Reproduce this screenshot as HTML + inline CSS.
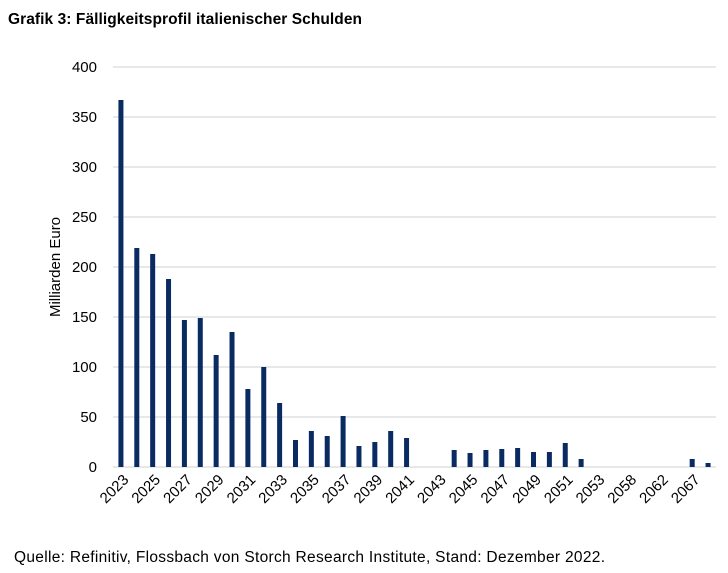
<!DOCTYPE html>
<html><head><meta charset="utf-8"><style>
body{margin:0;background:#fff;width:728px;height:573px;overflow:hidden;font-family:"Liberation Sans",sans-serif;}
</style></head><body>
<svg width="728" height="573" style="position:absolute;left:0;top:0">
<text x="8" y="24" font-size="15.5" font-weight="bold" fill="#000" textLength="354">Grafik 3: Fälligkeitsprofil italienischer Schulden</text>
<text transform="translate(60,267) rotate(-90)" text-anchor="middle" font-size="15" fill="#000">Milliarden Euro</text>
<text x="14" y="562" font-size="15.5" fill="#000" textLength="591">Quelle: Refinitiv, Flossbach von Storch Research Institute, Stand: Dezember 2022.</text>
<g id="grid"></g><g id="bars"></g><g id="labels"></g>
</svg>
<script>
const categories=["2023","2024","2025","2026","2027","2028","2029","2030","2031","2032","2033","2034","2035","2036","2037","2038","2039","2040","2041","2042","2043","2044","2045","2046","2047","2048","2049","2050","2051","2052","2053","2056","2058","2060","2062","2064","2067","2072"];
const values=[367,219,213,188,147,149,112,135,78,100,64,27,36,31,51,21,25,36,29,0,0,17,14,17,18,19,15,15,24,8,0,0,0,0,0,0,8,4];
const yTicks=[0,50,100,150,200,250,300,350,400];
const NS="http://www.w3.org/2000/svg";
const x0=113,x1=716,y0=467,yTop=67,yMax=400;
const step=(x1-x0)/categories.length;
function xs(i){return x0+step*(i+0.5);}
function ys(v){return y0-(v/yMax)*(y0-yTop);}
const grid=document.getElementById('grid'),bars=document.getElementById('bars'),labels=document.getElementById('labels');
yTicks.forEach(t=>{
 const l=document.createElementNS(NS,'line');
 
 
 l.setAttribute('x1',x0);l.setAttribute('x2',x1);l.setAttribute('y1',ys(t));l.setAttribute('y2',ys(t));
 l.setAttribute('stroke','#d9d9d9');l.setAttribute('stroke-width','1.3');
 grid.appendChild(l);
 const tx=document.createElementNS(NS,'text');
 
 
 tx.setAttribute('x',97);tx.setAttribute('y',ys(t)+5);tx.setAttribute('text-anchor','end');tx.setAttribute('font-size','15');
 tx.textContent=t;grid.appendChild(tx);
});
values.forEach((v,i)=>{
 if(v<=0)return;
 const r=document.createElementNS(NS,'rect');
 
 
 r.setAttribute('x',xs(i)-2.5);r.setAttribute('width',5);r.setAttribute('y',ys(v));r.setAttribute('height',y0-ys(v));
 r.setAttribute('fill','#0a2a62');bars.appendChild(r);
});
categories.forEach((c,i)=>{
 if(i%2)return;
 const tx=document.createElementNS(NS,'text');
 
 
 const x=xs(i)+5,y=y0+10;
 tx.setAttribute('transform','translate('+x+','+y+') rotate(-45)');
 tx.setAttribute('text-anchor','end');tx.setAttribute('font-size','15');tx.setAttribute('dy','5');
 tx.textContent=c;labels.appendChild(tx);
});
</script>
</body></html>
